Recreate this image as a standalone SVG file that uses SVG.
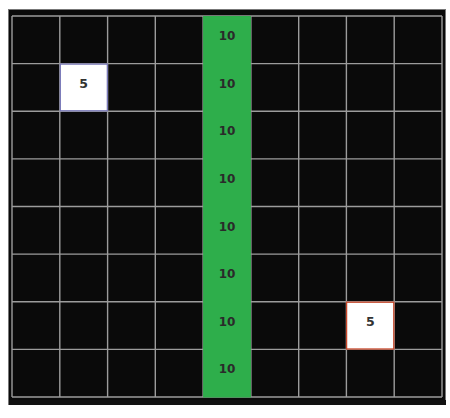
<svg xmlns="http://www.w3.org/2000/svg" width="450" height="418" viewBox="0 0 450 418">
<style>
.g{stroke:#9c9c9c;stroke-width:1.4;fill:none}
.t{font-family:"DejaVu Sans",Verdana,sans-serif;font-size:12px;font-weight:bold;fill:#2a2a2a;text-anchor:middle}
.t5{font-family:"DejaVu Sans",Verdana,sans-serif;font-size:12.5px;font-weight:bold;fill:#333;text-anchor:middle}
</style>
<rect width="450" height="418" fill="#ffffff"/>
<g id="frame">
<rect x="8.5" y="9.5" width="437" height="395" fill="#0a0a0a" stroke="#777" stroke-width="1"/>
<rect x="9" y="400" width="437" height="5" fill="#111"/>
</g>
<g id="grid">
<path class="g" d="M12,16H442M12,63.6H442M12,111.25H442M12,158.9H442M12,206.5H442M12,254.1H442M12,301.75H442M12,349.4H442M12,397H442"/>
<path class="g" d="M12,16V397M59.8,16V397M107.6,16V397M155.3,16V397M203.1,16V397M250.9,16V397M298.7,16V397M346.4,16V397M394.2,16V397M442,16V397"/>
</g>
<g id="green-column">
<rect x="203.1" y="16" width="47.8" height="381.5" fill="#2eae4b"/>
<text class="t" x="227" y="40">10</text>
<text class="t" x="227" y="87.6">10</text>
<text class="t" x="227" y="135.2">10</text>
<text class="t" x="227" y="182.9">10</text>
<text class="t" x="227" y="230.5">10</text>
<text class="t" x="227" y="278.1">10</text>
<text class="t" x="227" y="325.8">10</text>
<text class="t" x="227" y="373.4">10</text>
</g>
<g id="cell-a">
<rect x="60.3" y="64.1" width="47" height="46.7" fill="#ffffff" stroke="#7474b8" stroke-width="1.2"/>
<text class="t5" x="83.7" y="88">5</text>
</g>
<g id="cell-b">
<rect x="346.6" y="302.2" width="47.2" height="46.8" fill="#ffffff" stroke="#c8472a" stroke-width="1.3"/>
<text class="t5" x="370.3" y="326">5</text>
</g>
</svg>
